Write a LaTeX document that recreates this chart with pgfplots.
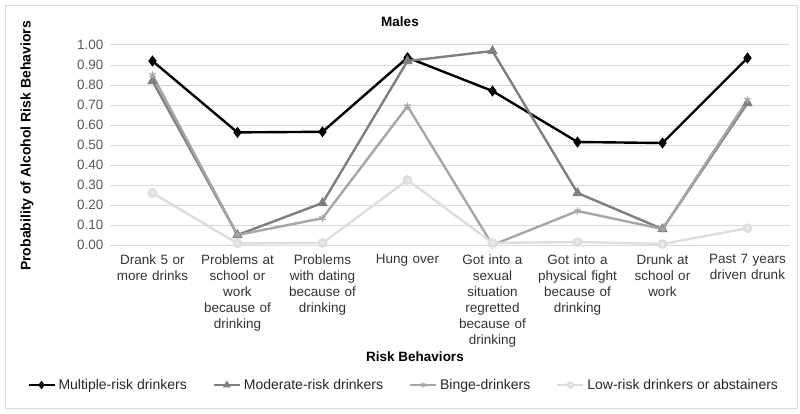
\documentclass[border=0pt]{standalone}
\usepackage{fontspec}
\setmainfont{Liberation Sans}
\usepackage{pgfplots}
\pgfplotsset{compat=1.18}

\definecolor{multi}{HTML}{000000}
\definecolor{moder}{HTML}{7F7F7F}
\definecolor{binge}{HTML}{A6A6A6}
\definecolor{lowrisk}{HTML}{DDDDDD}
\definecolor{gridc}{HTML}{D9D9D9}
\definecolor{txt}{HTML}{595959}

\begin{document}
\begin{tikzpicture}[x=1pt,y=1pt]
  % page box and chart frame
  \path (0,0) rectangle (800,413);
  \draw[gridc, line width=0.8pt] (5,5) rectangle (797,408);

  \begin{axis}[
    at={(110pt,168pt)}, anchor=south west,
    scale only axis,
    width=680pt, height=200pt,
    xmin=-0.5, xmax=7.5,
    ymin=0, ymax=1,
    xtick={0,...,7},
    xticklabels={
      {Drank 5 or\\more drinks},
      {Problems at\\school or\\work\\because of\\drinking},
      {Problems\\with dating\\because of\\drinking},
      {Hung over},
      {Got into a\\sexual\\situation\\regretted\\because of\\drinking},
      {Got into a\\physical fight\\because of\\drinking},
      {Drunk at\\school or\\work},
      {Past 7 years\\driven drunk}},
    ytick={0,0.1,...,1.0},
    yticklabel style={/pgf/number format/.cd, fixed, fixed zerofill, precision=2,
      /tikz/.cd, font=\fontsize{13.5}{16}\selectfont, text=txt, xshift=-3pt},
    /pgf/number format/assume math mode=true,
    xticklabel style={font=\fontsize{13.5}{16}\selectfont, text=black!80,
      align=center, text width=90pt, yshift=-6pt},
    ymajorgrids=true,
    grid style={gridc, line width=1pt},
    axis line style={draw=none},
    major tick style={draw=none},
    every axis plot/.append style={line width=2.4pt, mark size=3.6pt},
    legend columns=4,
    legend style={at={(0.432,-0.70)}, anchor=center, draw=none, fill=none,
      font=\fontsize{14}{16}\selectfont, text=black!85,
      /tikz/every even column/.append style={column sep=24pt},
      /tikz/every odd column/.append style={column sep=1pt}},
    legend cell align=left,
    legend image code/.code={
      \draw[mark repeat=2, mark phase=2, line width=2pt, mark size=2.6pt]
        plot coordinates {(0pt,0pt) (13pt,0pt) (26pt,0pt)};},
  ]
  \addplot[multi, mark=diamond*, mark options={fill=multi}]
    coordinates {(0,0.92)(1,0.563)(2,0.566)(3,0.937)(4,0.77)(5,0.515)(6,0.51)(7,0.935)};
  \addlegendentry{Multiple-risk drinkers}
  \addplot[moder, mark=triangle*, mark options={fill=moder}]
    coordinates {(0,0.82)(1,0.05)(2,0.21)(3,0.92)(4,0.97)(5,0.26)(6,0.08)(7,0.71)};
  \addlegendentry{Moderate-risk drinkers}
  \addplot[binge, mark=asterisk, mark options={line width=1.2pt}]
    coordinates {(0,0.85)(1,0.05)(2,0.134)(3,0.694)(4,0.0)(5,0.17)(6,0.08)(7,0.725)};
  \addlegendentry{Binge-drinkers}
  \addplot[lowrisk, mark=*, mark options={fill=lowrisk!60, draw=lowrisk}]
    coordinates {(0,0.26)(1,0.008)(2,0.01)(3,0.325)(4,0.01)(5,0.015)(6,0.005)(7,0.084)};
  \addlegendentry{Low-risk drinkers or abstainers}
  \end{axis}

  \node[font=\bfseries\fontsize{13.5}{16}\selectfont] at (400,391) {Males};
  \node[font=\bfseries\fontsize{13.5}{16}\selectfont] at (415,56) {Risk Behaviors};
  \node[font=\bfseries\fontsize{14}{16}\selectfont, rotate=90] at (27,267)
    {Probability of Alcohol Risk Behaviors};
\end{tikzpicture}
\end{document}
